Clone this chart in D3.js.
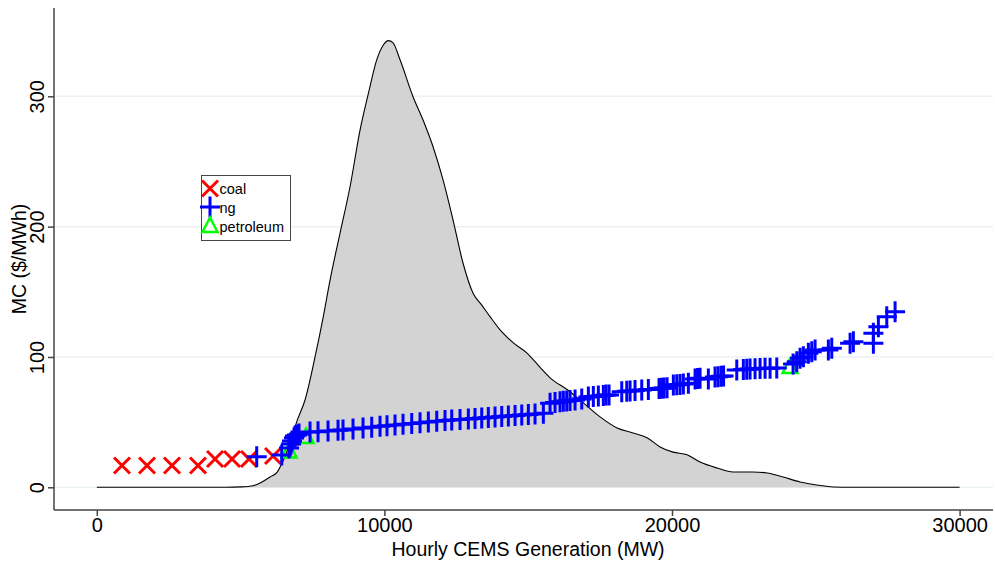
<!DOCTYPE html>
<html>
<head>
<meta charset="utf-8">
<script src="https://cdn.jsdelivr.net/npm/d3@7"></script>
<style>
  html, body { margin: 0; padding: 0; background: #fff; }
  svg { display: block; font-family: "Liberation Sans", Arial, sans-serif; }
</style>
</head>
<body>
<svg id="chart" width="995" height="563"></svg>
<script>
// ---------------- DATA ----------------
const xTicks = [0, 10000, 20000, 30000];
const yTicks = [0, 100, 200, 300];
const seriesNames = ["coal", "ng", "petroleum"];

// kernel density of hourly generation (scaled to the MC axis)
const densityX = [0, 4500, 5000, 5432, 5745, 6023, 6266, 6475, 6718, 6962, 7240, 7588, 7876, 8110, 8458, 8805, 9153, 9441, 9733, 9953, 10137, 10301, 10544, 10996, 11344, 11692, 12040, 12387, 12735, 13083, 13380, 13674, 14022, 14474, 14960, 15413, 15760, 16352, 16908, 17499, 18090, 18646, 19133, 19585, 20037, 20524, 20976, 21567, 22124, 22819, 23306, 23862, 24453, 25045, 25601, 26200, 30000];
const densityY = [0, 0, 0.3, 1.2, 4.1, 7.9, 11.5, 20.2, 34, 51, 67, 100, 131, 159, 195, 230.6, 274, 302, 328, 339, 342.7, 341, 328, 299.7, 281.8, 261.3, 235.8, 205, 171.9, 148.9, 140, 130.9, 120.8, 111, 103, 92, 84, 75, 65, 54, 45.5, 41.7, 38, 31, 27, 25, 19.4, 14.8, 11.7, 11.7, 11, 7.9, 4.1, 1.8, 0.2, 0, 0];

// coal units: cumulative capacity (MW) and marginal cost ($/MWh)
const coalX = [876, 1746, 2615, 3519, 4111, 4702, 5293, 6127];
const coalY = [16.7, 16.7, 16.7, 16.7, 21.7, 21.7, 21.7, 24.0];

// natural gas units
const ngX = [5560, 6430, 6684, 6753, 6788, 6857, 6892, 6962, 7031, 7414,
  7692, 8040, 8388, 8561, 8909, 9257, 9559, 9848, 10091, 10370, 10648, 10950, 11239, 11528, 11820, 12108, 12341, 12630, 12919, 13151, 13384, 13614, 13847, 14080, 14310, 14543, 14776, 15005, 15238, 15527,
  15760, 15934, 16107, 16222, 16340, 16455, 16629, 16862, 17092, 17265, 17439, 17613, 17707, 17811,
  18253, 18427, 18542, 18715, 18948, 19178, 19550, 19637, 19724, 19828, 20047, 20166, 20280, 20395, 20569,
  20802, 20889, 20976, 21264, 21497, 21601, 21706, 21793, 22252, 22481, 22599, 22714, 22888, 23062, 23236, 23410, 23643,
  24210, 24338, 24453, 24568, 24742, 24860, 24975, 25437, 25555, 26192, 26306, 27002, 27002, 27176, 27468, 27757];
const ngY = [23.5, 24.8, 30.2, 33.2, 35.5, 37.8, 39.4, 40.1, 40.9, 42.4,
  42.7, 43.2, 43.8, 44.0, 44.7, 45.5, 46.1, 46.8, 47.3, 47.8, 48.3, 49.0, 49.5, 50.1, 50.6, 51.3, 51.6, 52.0, 52.4, 52.8, 53.2, 53.6, 53.9, 54.3, 54.7, 55.1, 55.5, 55.9, 56.2, 56.8,
  64.4, 65.1, 65.7, 66.0, 66.2, 66.6, 67.0, 67.7, 69.3, 69.7, 70.1, 70.4, 70.8, 70.8,
  73.4, 73.7, 73.9, 74.3, 74.7, 75.0, 75.8, 76.0, 76.2, 76.3, 78.5, 78.6, 78.9, 79.3, 79.8,
  83.1, 83.5, 83.6, 83.1, 84.6, 84.9, 85.2, 85.4, 90.0, 90.4, 90.5, 90.8, 90.9, 91.2, 91.3, 91.3, 91.5,
  94.6, 96.4, 99.0, 100.2, 102.8, 104.0, 105.3, 105.3, 106.6, 110.5, 111.7, 110.5, 118.2, 123.2, 130.9, 134.7];

// petroleum units
const petX = [6684, 7275, 24106];
const petY = [27.5, 38.6, 92.3];

// ---------------- LAYOUT ----------------
const svg = d3.select("#chart");
const axisColor = "#444";
const plotLeft = 54, plotRight = 993, plotTop = 8, plotBottom = 510;

const x = d3.scaleLinear().domain([0, 30000]).range([96.8, 959.6]);
const y = d3.scaleLinear().domain([0, 300]).range([487.3, 96.3]);

// grid lines
svg.append("g").selectAll("line").data(yTicks).join("line")
  .attr("x1", plotLeft).attr("x2", plotRight)
  .attr("y1", d => y(d)).attr("y2", d => y(d))
  .attr("stroke", "#eaf2f3").attr("stroke-width", 1.5);

// density
const dens = densityX.map((d, i) => [d, densityY[i]]);
svg.append("path")
  .datum(dens)
  .attr("d", d3.area().x(d => x(d[0])).y0(y(0)).y1(d => y(d[1])).curve(d3.curveMonotoneX))
  .attr("fill", "#d3d3d3");
svg.append("path")
  .datum(dens)
  .attr("d", d3.line().x(d => x(d[0])).y(d => y(d[1])).curve(d3.curveMonotoneX))
  .attr("fill", "none").attr("stroke", "#000").attr("stroke-width", 1.1);

// axes
const xAxis = svg.append("g").attr("transform", `translate(0,${plotBottom})`)
  .call(d3.axisBottom(x).tickValues(xTicks).tickSize(6).tickFormat(d3.format("d")));
xAxis.select(".domain").remove();
xAxis.selectAll(".tick line").attr("stroke", axisColor).attr("stroke-width", 1.5);
xAxis.selectAll(".tick text").attr("font-size", 20).attr("fill", "#000")
  .attr("font-family", "Liberation Sans, Arial, sans-serif").attr("y", 8);
svg.append("line").attr("x1", plotLeft).attr("x2", plotRight)
  .attr("y1", plotBottom).attr("y2", plotBottom)
  .attr("stroke", axisColor).attr("stroke-width", 1.5);

const yAxis = svg.append("g").attr("transform", `translate(${plotLeft},0)`)
  .call(d3.axisLeft(y).tickValues(yTicks).tickSize(6));
yAxis.select(".domain").remove();
yAxis.selectAll(".tick line").attr("stroke", axisColor).attr("stroke-width", 1.5);
yAxis.selectAll(".tick text")
  .attr("font-size", 20).attr("fill", "#000")
  .attr("font-family", "Liberation Sans, Arial, sans-serif")
  .attr("transform", "rotate(-90)")
  .attr("x", 0).attr("y", -10).attr("dy", 0)
  .attr("text-anchor", "middle");
svg.append("line").attr("x1", plotLeft).attr("x2", plotLeft)
  .attr("y1", plotTop).attr("y2", plotBottom)
  .attr("stroke", axisColor).attr("stroke-width", 1.5);

// axis titles
svg.append("text").attr("x", 528).attr("y", 556)
  .attr("text-anchor", "middle").attr("font-size", 19.5).attr("fill", "#000")
  .text("Hourly CEMS Generation (MW)");
svg.append("text").attr("transform", "translate(26,259) rotate(-90)")
  .attr("text-anchor", "middle").attr("font-size", 19.5).attr("fill", "#000")
  .text("MC ($/MWh)");

// marker shapes
const xPath = "M-8,-8L8,8M-8,8L8,-8";
const plusPath = "M-10,0L10,0M0,-10.5L0,10.5";
const triPath = "M0,-8.5L-7.5,6L7.5,6Z";

const coal = coalX.map((d, i) => [d, coalY[i]]);
const ng = ngX.map((d, i) => [d, ngY[i]]);
const pet = petX.map((d, i) => [d, petY[i]]);

svg.append("g").selectAll("path").data(coal).join("path")
  .attr("d", xPath).attr("transform", d => `translate(${x(d[0])},${y(d[1])})`)
  .attr("stroke", "#ff0000").attr("stroke-width", 3).attr("fill", "none");

svg.append("g").selectAll("path").data(pet).join("path")
  .attr("d", triPath).attr("transform", d => `translate(${x(d[0])},${y(d[1])})`)
  .attr("stroke", "#00ff00").attr("stroke-width", 2.5).attr("fill", "none");

svg.append("g").selectAll("path").data(ng).join("path")
  .attr("d", plusPath).attr("transform", d => `translate(${x(d[0])},${y(d[1])})`)
  .attr("stroke", "#0000ff").attr("stroke-width", 3).attr("fill", "none");

// legend
const lg = svg.append("g");
lg.append("rect").attr("x", 201.5).attr("y", 175.5).attr("width", 89).attr("height", 65)
  .attr("fill", "#fff").attr("stroke", "#444").attr("stroke-width", 1);
const legendShapes = [
  { path: xPath, color: "#ff0000", sw: 3, cy: 188.5 },
  { path: plusPath, color: "#0000ff", sw: 3, cy: 207 },
  { path: triPath, color: "#00ff00", sw: 2.5, cy: 226 }
];
seriesNames.forEach((name, i) => {
  const s = legendShapes[i];
  lg.append("path").attr("d", s.path).attr("transform", `translate(210,${s.cy})`)
    .attr("stroke", s.color).attr("stroke-width", s.sw).attr("fill", "none");
  lg.append("text").attr("x", 219.5).attr("y", s.cy + 5.5)
    .attr("font-size", 14.5).attr("fill", "#000").text(name);
});
</script>
</body>
</html>
